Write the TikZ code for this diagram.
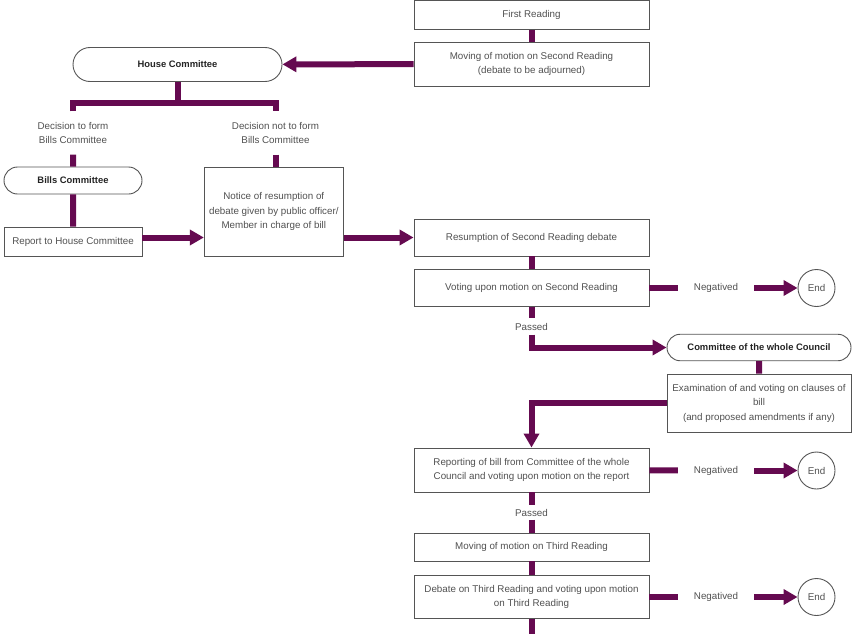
\documentclass[tikz,border=0pt]{standalone}
\usepackage{fontspec}
\setmainfont{Liberation Sans}
\usetikzlibrary{arrows.meta,shapes.misc}
\definecolor{flowpurple}{RGB}{101,10,80}
\definecolor{boxgray}{RGB}{85,85,85}
\definecolor{txtgray}{RGB}{80,80,80}
\definecolor{darktxt}{RGB}{35,35,35}

\begin{document}
\begin{tikzpicture}[x=1pt,y=-1pt,
    every node/.style={inner sep=0pt,align=center,text=txtgray,font=\fontsize{9.8}{14.5}\selectfont},
    stage/.style={rectangle,draw=boxgray,line width=0.9pt,minimum width=235pt,minimum height=#1},
    sidebox/.style={rectangle,draw=boxgray,line width=0.9pt,minimum width=138pt,minimum height=#1},
    pill/.style={rounded rectangle,draw=boxgray,line width=0.9pt,text=darktxt,font=\fontsize{9.4}{12}\selectfont\bfseries},
    endnode/.style={circle,draw=boxgray,line width=0.9pt,minimum size=37pt},
    negnode/.style={minimum width=76pt,minimum height=14pt},
    flow/.style={draw=flowpurple,line width=6pt},
    flowarrow/.style={flow,-{Triangle[length=14pt,width=15pt]}}]

    \useasboundingbox (0,0) rectangle (858,634);

    % --- main column ---
    \node[stage=29pt] (first) at (531.5,15) {First Reading};
    \node[stage=44pt] (moving2) at (531.5,64) {Moving of motion on Second Reading\\(debate to be adjourned)};
    \node[stage=37pt] (resume) at (531.5,237.5) {Resumption of Second Reading debate};
    \node[stage=37pt] (vote2) at (531.5,288) {Voting upon motion on Second Reading};
    \node[minimum height=16pt] (passed1) at (531.5,326.5) {Passed};
    \node[stage=44pt] (report3) at (531.5,470) {Reporting of bill from Committee of the whole\\Council and voting upon motion on the report};
    \node[minimum height=14pt] (passed2) at (531.5,512.5) {Passed};
    \node[stage=28pt] (third) at (531.5,547) {Moving of motion on Third Reading};
    \node[stage=43pt] (debate3) at (531.5,597) {Debate on Third Reading and voting upon motion\\on Third Reading};
    \coordinate (tail) at (531.5,634);

    % --- committees on the left ---
    \node[pill,minimum width=209pt,minimum height=34pt] (house) at (177.5,64.5) {House Committee};
    \coordinate (split) at (177.5,102.5);
    \node[minimum height=43pt] (decyes) at (73,133) {Decision to form\\Bills Committee};
    \node[minimum height=43pt] (decno) at (275.5,133) {Decision not to form\\Bills Committee};
    \node[pill,minimum width=138pt,minimum height=27pt] (bills) at (73,180.5) {Bills Committee};
    \node[sidebox=29pt] (report) at (73,241.5) {Report to House Committee};
    \node[rectangle,draw=boxgray,line width=0.9pt,minimum width=139pt,minimum height=89pt] (notice) at (273.8,211.5) {Notice of resumption of\\debate given by public officer/\\Member in charge of bill};

    % --- committee of the whole Council ---
    \node[pill,minimum width=184pt,minimum height=26.5pt] (cwc) at (759,347.5) {Committee of the whole Council};
    \node[rectangle,draw=boxgray,line width=0.9pt,minimum width=184pt,minimum height=58pt] (exam) at (759,403) {Examination of and voting on clauses of\\bill\\(and proposed amendments if any)};

    % --- negatived branches ---
    \node[negnode] (neg1) at (716,288) {Negatived};
    \node[endnode] (end1) at (816.5,288) {End};
    \node[negnode] (neg2) at (716,470.5) {Negatived};
    \node[endnode] (end2) at (816.5,470.5) {End};
    \node[negnode] (neg3) at (716,597) {Negatived};
    \node[endnode] (end3) at (816.5,597) {End};

    % --- connectors ---
    \draw[flow] (first) -- (moving2);
    \draw[flowarrow] (moving2) -- (house);
    \draw[flow] (house.south) -- (split);
    \draw[flow] (decyes.north) |- (split) -| (decno.north);
    \draw[flow] (decyes) -- (bills);
    \draw[flow] (bills) -- (report);
    \draw[flow] (decno.south) -- (decno.south |- notice.north);
    \draw[flowarrow] (report.east |- resume.west) -- (notice.west |- resume.west);
    \draw[flowarrow] (notice.east |- resume.west) -- (resume.west);
    \draw[flow] (resume) -- (vote2);
    \draw[flow] (vote2) -- (passed1);
    \draw[flowarrow] (passed1.south) |- (cwc.west);
    \draw[flow] (cwc) -- (exam);
    \draw[flowarrow] (exam.west) -| (report3.north);
    \draw[flow] (report3) -- (passed2);
    \draw[flow] (passed2) -- (third);
    \draw[flow] (third) -- (debate3);
    \draw[flow] (debate3) -- (tail);
    \draw[flow] (vote2) -- (neg1);
    \draw[flowarrow] (neg1) -- (end1);
    \draw[flow] (report3) -- (neg2);
    \draw[flowarrow] (neg2) -- (end2);
    \draw[flow] (debate3) -- (neg3);
    \draw[flowarrow] (neg3) -- (end3);

\end{tikzpicture}
\end{document}
